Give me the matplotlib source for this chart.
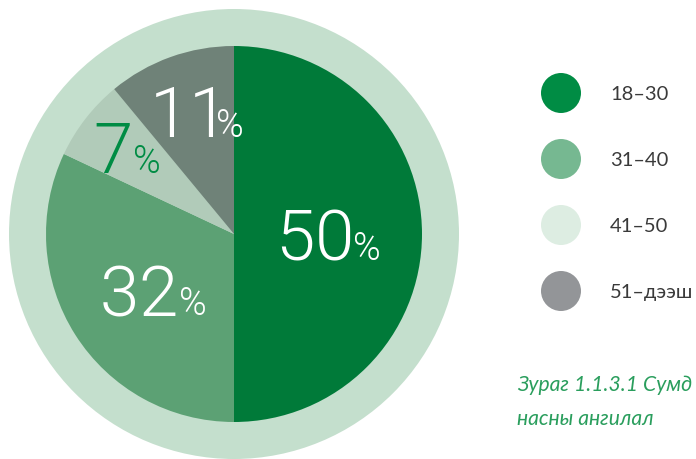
import matplotlib
matplotlib.use("Agg")
import matplotlib.pyplot as plt
import matplotlib.font_manager as fm
from matplotlib.patches import Circle

# ---- data ----
groups = ["18–30", "31–40", "41–50", "51–дээш"]
shares = [50, 32, 7, 11]
slice_colors = ["#007A39", "#5CA174", "#B1CBB9", "#6F8278"]
legend_colors = ["#008C44", "#76B891", "#DDEDE2", "#939598"]
label_colors = ["white", "white", "#008C44", "white"]
caption_lines = ["Зураг 1.1.3.1 Сумд", "насны ангилал"]


def pick_font(names, weight, style="normal"):
    for name in names:
        cands = [f for f in fm.fontManager.ttflist if f.name == name and f.style == style]
        if cands:
            def wnum(f):
                w = f.weight
                return w if isinstance(w, int) else fm.weight_dict.get(w, 400)
            best = min(cands, key=lambda f: (abs(wnum(f) - weight), f.stretch != "normal"))
            return fm.FontProperties(fname=best.fname)
    return fm.FontProperties(family="DejaVu Sans")


W, H = 696, 459
fig = plt.figure(figsize=(W / 100, H / 100), dpi=100)
ax = fig.add_axes([0, 0, 1, 1])


def Y(y_img):
    return H - y_img


cx, cy = 234, Y(234)
r_in, r_out = 188, 225

ax.add_patch(Circle((cx, cy), r_out, color="#C4DFCD", lw=0, zorder=0))
wedges, _ = ax.pie(shares, colors=slice_colors, startangle=90, counterclock=False,
                   center=(cx, cy), radius=r_in, wedgeprops=dict(linewidth=0))
for w in wedges:
    w.set_zorder(1)

ax.set_xlim(0, W)
ax.set_ylim(0, H)
ax.set_aspect("equal")
ax.axis("off")

num_fp = pick_font(["Liberation Sans Narrow", "Roboto"], 300)
# label anchor (junction between number and %) in image pixels, baseline
label_pos = [(351, 260), (177, 315), (131, 173), (214, 137)]
for v, (x, y), c in zip(shares, label_pos, label_colors):
    fp = num_fp.copy()
    fp.set_size(51)
    ax.text(x, Y(y), r"$\mathregular{%d}$" % v, ha="right", va="baseline",
            color=c, zorder=3, fontproperties=fp)
    fp2 = num_fp.copy()
    fp2.set_size(27)
    ax.text(x + 1, Y(y), r"$\mathregular{\%}$", ha="left", va="baseline",
            color=c, zorder=3, fontproperties=fp2)

# legend
lato = pick_font(["Lato", "Open Sans"], 400)
lato_it = pick_font(["Lato", "Open Sans"], 400, style="italic")
leg_x, leg_y0, leg_dy = 561, 93, 66
for i, (g, c) in enumerate(zip(groups, legend_colors)):
    yy = Y(leg_y0 + i * leg_dy)
    ax.add_patch(Circle((leg_x, yy), 20, color=c, lw=0))
    fp = lato.copy()
    fp.set_size(14.5)
    ax.text(610, yy, g, ha="left", va="center_baseline", color="#3A3A3A",
            fontproperties=fp)

# caption
for i, line in enumerate(caption_lines):
    fp = lato_it.copy()
    fp.set_size(15.2)
    ax.text(517, Y(391 + i * 34), line, ha="left", va="baseline",
            color="#2A9E5D", fontproperties=fp)

fig.savefig("out.png", dpi=100)
